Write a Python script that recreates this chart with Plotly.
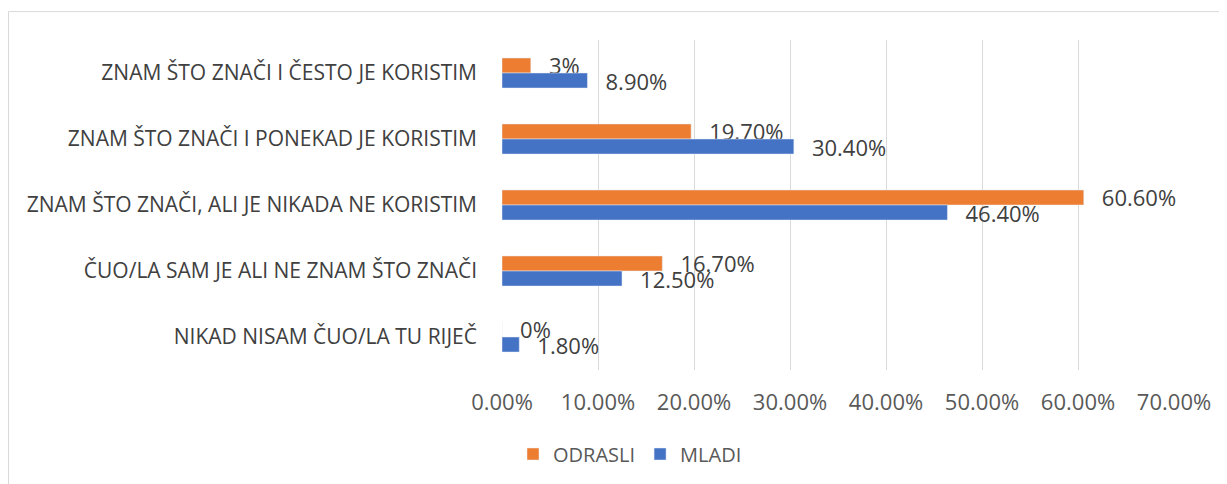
import plotly.graph_objects as go

categories = [
    "ZNAM ŠTO ZNAČI I ČESTO JE KORISTIM",
    "ZNAM ŠTO ZNAČI I PONEKAD JE KORISTIM",
    "ZNAM ŠTO ZNAČI, ALI JE NIKADA NE KORISTIM",
    "ČUO/LA SAM JE ALI NE ZNAM ŠTO ZNAČI",
    "NIKAD NISAM ČUO/LA TU RIJEČ",
]
odrasli = [3.0, 19.7, 60.6, 16.7, 0.0]
odrasli_labels = ["3%", "19.70%", "60.60%", "16.70%", "0%"]
mladi = [8.9, 30.4, 46.4, 12.5, 1.8]
mladi_labels = ["8.90%", "30.40%", "46.40%", "12.50%", "1.80%"]
x_ticks = [0, 10, 20, 30, 40, 50, 60, 70]
x_tick_labels = ["0.00%", "10.00%", "20.00%", "30.00%", "40.00%", "50.00%", "60.00%", "70.00%"]

FONT = "Open Sans"
PAD = "\u00a0\u00a0\u2009"

fig = go.Figure()
fig.add_trace(go.Bar(
    y=categories, x=odrasli, orientation="h", name="ODRASLI",
    marker=dict(color="#ED7D31"),
    text=[PAD + t for t in odrasli_labels], textposition="outside",
    constraintext="none", cliponaxis=False,
    textfont=dict(family=FONT, size=22, color="#404040"),
    hoverinfo="skip",
))
fig.add_trace(go.Bar(
    y=categories, x=mladi, orientation="h", name="MLADI",
    marker=dict(color="#4472C4"),
    text=[PAD + t for t in mladi_labels], textposition="outside",
    constraintext="none", cliponaxis=False,
    textfont=dict(family=FONT, size=22, color="#404040"),
    hoverinfo="skip",
))

# page body has an 8px margin; work in screen pixels and shift
OFF = 8
L, R, T, B = 502 - OFF, 1174 - OFF, 40 - OFF, 371 - OFF
W, H = 1227 - OFF, 484 - OFF
pw, ph = R - L, B - T

def px_x(x):
    return (x - OFF - L) / pw

def px_y(y):
    return (B - (y - OFF)) / ph

fig.update_layout(
    width=W, height=H,
    margin=dict(l=L, r=W - R, t=T, b=H - B, pad=0),
    paper_bgcolor="white", plot_bgcolor="white",
    barmode="group", bargap=0.545, bargroupgap=0,
    font=dict(family=FONT, size=21, color="#595959"),
    showlegend=True,
    legend=dict(orientation="h", x=px_x(630), xanchor="center",
                y=px_y(454), yanchor="middle",
                font=dict(family=FONT, size=20, color="#595959"),
                itemwidth=30, tracegroupgap=0),
    xaxis=dict(range=[0, 70], tickvals=x_ticks, ticktext=x_tick_labels,
               showgrid=True, gridcolor="#D9D9D9", gridwidth=1,
               zeroline=False, showline=False, ticks="",
               ticklabelstandoff=17,
               tickfont=dict(family=FONT, size=22, color="#595959")),
    yaxis=dict(autorange="reversed", showgrid=False, zeroline=False,
               showline=False, ticks="", ticklabelstandoff=24,
               tickfont=dict(family=FONT, size=21, color="#404040")),
    shapes=[dict(type="rect", xref="paper", yref="paper",
                 x0=px_x(8.5), x1=px_x(1240), y0=px_y(11.5), y1=px_y(500),
                 line=dict(color="#D9D9D9", width=1), fillcolor="rgba(0,0,0,0)",
                 layer="below")],
)

fig.write_html("out.html")
